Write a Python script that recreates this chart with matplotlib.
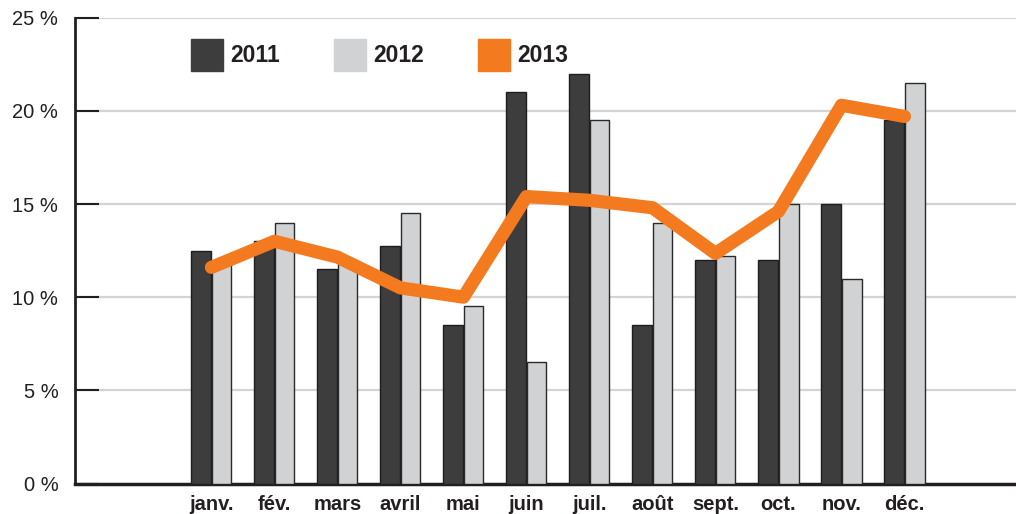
import numpy as np
import matplotlib
matplotlib.use("Agg")
import matplotlib.pyplot as plt
from matplotlib.patches import Patch

months = ["janv.", "fév.", "mars", "avril", "mai", "juin", "juil.", "août", "sept.", "oct.", "nov.", "déc."]
v2011 = [12.5, 13.0, 11.5, 12.75, 8.5, 21.0, 22.0, 8.5, 12.0, 12.0, 15.0, 19.5]
v2012 = [11.8, 14.0, 12.0, 14.5, 9.5, 6.5, 19.5, 14.0, 12.2, 15.0, 11.0, 21.5]
v2013 = [11.6, 13.0, 12.15, 10.5, 10.0, 15.4, 15.2, 14.8, 12.35, 14.6, 20.3, 19.7]
yticks = [0, 5, 10, 15, 20, 25]

plt.rcParams["font.family"] = ["Liberation Sans", "DejaVu Sans"]
TXT = "#231f20"
DARK, LIGHT, ORANGE = "#3d3d3d", "#d1d2d4", "#f47a20"

fig = plt.figure(figsize=(10.16, 5.14), dpi=100)
ax = fig.add_axes([75/1016, 1-483.5/514, 1-75/1016, (483.5-17.7)/514])

x = np.arange(len(months))
w = 0.31
ax.bar(x-0.163, v2011, w, color=DARK, edgecolor="#1e1e1e", lw=1, zorder=3)
ax.bar(x+0.163, v2012, w, color=LIGHT, edgecolor="#2a2a2a", lw=1, zorder=3)
ax.plot(x, v2013, color=ORANGE, lw=9.5, solid_capstyle="round", solid_joinstyle="round", zorder=4)

ax.set_xlim(-2.165, 12.77)
ax.set_ylim(0, 25)
ax.set_yticks(yticks)
ax.set_yticklabels([f"{t} %" for t in yticks], fontsize=14.5, color=TXT)
ax.set_xticks(x)
ax.set_xticklabels(months, fontsize=14.5, fontweight="bold", color=TXT)
ax.tick_params(axis="y", direction="in", length=17, width=1.5, color="#231f20", pad=12)
ax.tick_params(axis="x", length=0, pad=8)
for t in yticks[1:]:
    ax.axhline(t, color="#d4d4d4", lw=1.6, zorder=1)
for s in ["top", "right"]:
    ax.spines[s].set_visible(False)
ax.spines["left"].set_linewidth(2)
ax.spines["bottom"].set_linewidth(2.5)
ax.spines["left"].set_color("#231f20")
ax.spines["bottom"].set_color("#231f20")

handles = [Patch(color=DARK, label="2011"), Patch(color=LIGHT, label="2012"), Patch(color=ORANGE, label="2013")]
leg = ax.legend(handles=handles, ncol=3, frameon=False, loc="upper left",
                bbox_to_anchor=(191/1016, 1-39/514), bbox_transform=fig.transFigure,
                borderpad=0, borderaxespad=0, handlelength=1.4, handleheight=1.75,
                handletextpad=0.3, columnspacing=2.38,
                prop={"size": 16.5, "weight": "bold"})
for t in leg.get_texts():
    t.set_color(TXT)

fig.savefig("out.png", dpi=100)
